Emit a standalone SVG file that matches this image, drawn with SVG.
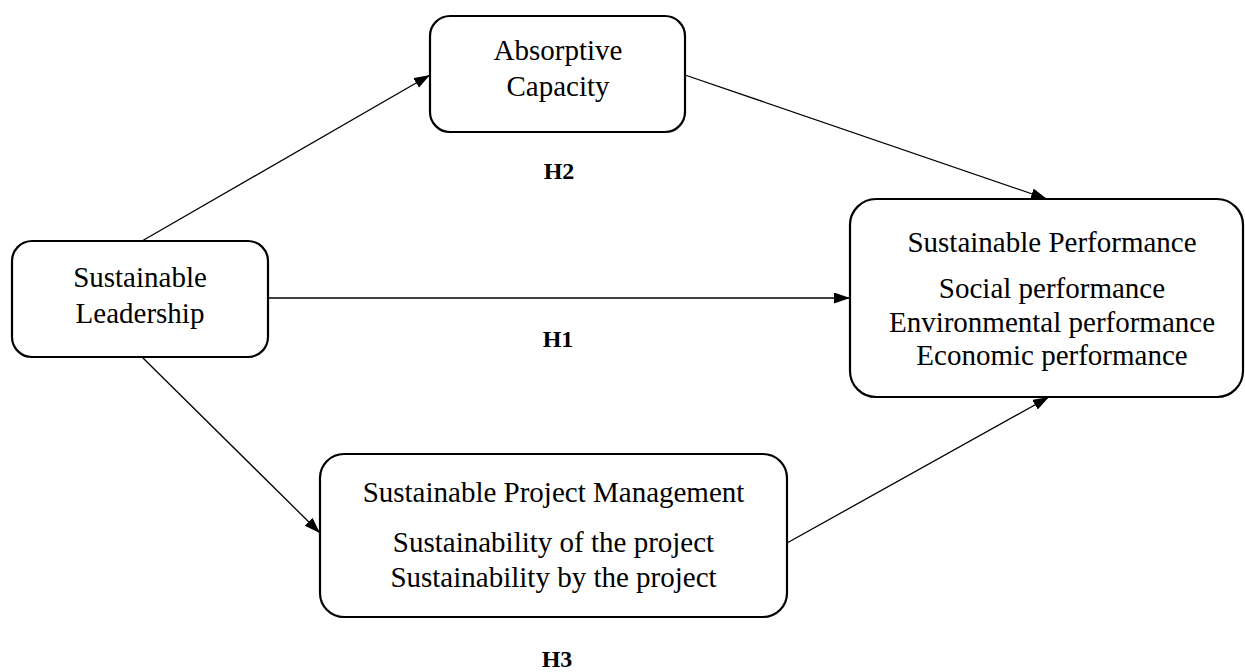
<svg xmlns="http://www.w3.org/2000/svg" width="1245" height="672" viewBox="0 0 1245 672">
  <style>
    .box { fill: #ffffff; stroke: #000000; stroke-width: 2.2; }
    .edge { fill: none; stroke: #000000; stroke-width: 1.3; marker-end: url(#arrow); }
    .label { font-family: "Liberation Serif", "Times New Roman", serif; font-size: 29px; fill: #000000; text-anchor: middle; }
    .hyp { font-family: "Liberation Serif", "Times New Roman", serif; font-size: 24px; font-weight: bold; fill: #000000; text-anchor: middle; }
  </style>
  <defs>
    <marker id="arrow" markerUnits="userSpaceOnUse" markerWidth="17" markerHeight="12" refX="16" refY="5.5" orient="auto">
      <path d="M0,0 L16,5.5 L0,11 z" fill="#000000"/>
    </marker>
  </defs>
  <rect width="1245" height="672" fill="#ffffff"/>

  <!-- connectors -->
  <g id="connectors">
    <line class="edge" x1="142" y1="241" x2="430" y2="75"/>
    <line class="edge" x1="685" y1="75" x2="1047" y2="199"/>
    <line class="edge" x1="268" y1="298" x2="850" y2="298"/>
    <line class="edge" x1="142" y1="357" x2="320" y2="533"/>
    <line class="edge" x1="787" y1="543" x2="1049" y2="397"/>
  </g>

  <!-- hypothesis labels -->
  <g id="hypotheses">
    <text class="hyp" x="559" y="179">H2</text>
    <text class="hyp" x="558" y="347">H1</text>
    <text class="hyp" x="557" y="667">H3</text>
  </g>

  <g id="absorptive-capacity">
    <rect class="box" x="430" y="16" width="255" height="116" rx="20" ry="20"/>
    <text class="label" x="558" y="60">Absorptive</text>
    <text class="label" x="558" y="96">Capacity</text>
  </g>

  <g id="sustainable-leadership">
    <rect class="box" x="12" y="241" width="256" height="116" rx="20" ry="20"/>
    <text class="label" x="140" y="287">Sustainable</text>
    <text class="label" x="140" y="323">Leadership</text>
  </g>

  <g id="sustainable-performance">
    <rect class="box" x="850" y="199" width="393" height="198" rx="26" ry="26"/>
    <text class="label" x="1052" y="252">Sustainable Performance</text>
    <text class="label" x="1052" y="298">Social performance</text>
    <text class="label" x="1052" y="332">Environmental performance</text>
    <text class="label" x="1052" y="365">Economic performance</text>
  </g>

  <g id="sustainable-project-management">
    <rect class="box" x="320" y="454" width="467" height="163" rx="24" ry="24"/>
    <text class="label" x="553.5" y="502">Sustainable Project Management</text>
    <text class="label" x="553.5" y="552">Sustainability of the project</text>
    <text class="label" x="553.5" y="587">Sustainability by the project</text>
  </g>
</svg>
